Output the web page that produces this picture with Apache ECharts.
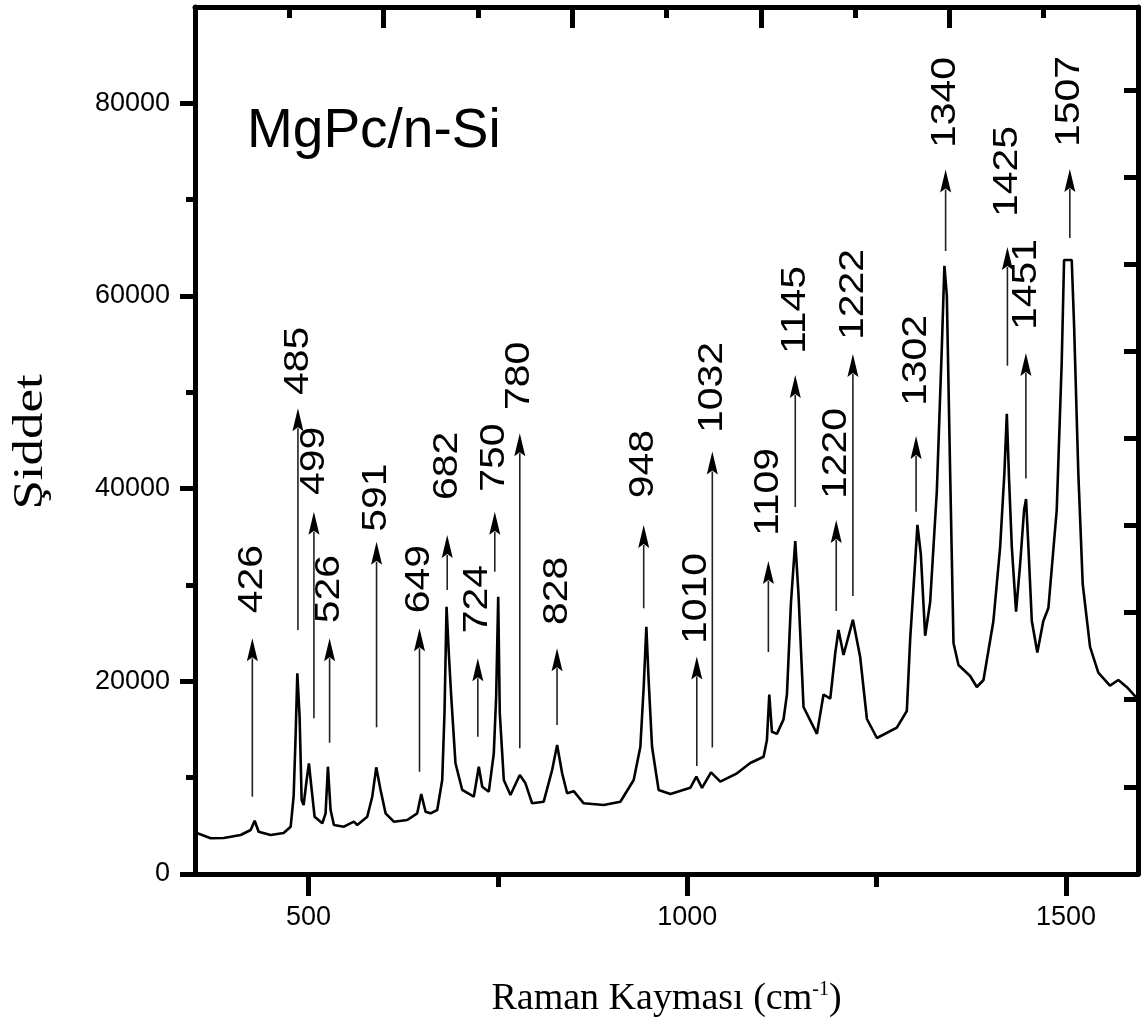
<!DOCTYPE html>
<html>
<head>
<meta charset="utf-8">
<script src="https://cdn.jsdelivr.net/npm/echarts@6/dist/echarts.min.js"></script>
<style>
html,body{margin:0;padding:0;background:#fff;}
#chart{width:1142px;height:1030px;}
</style>
</head>
<body>
<div id="chart"></div>
<script>
// ---- Spectrum (Raman shift, cm-1 / intensity) ----
const ramanShift = [353.2,370.7,387.9,410.3,423.5,428.8,434.0,449.9,467.0,476.3,480.2,482.8,485.1,488.1,490.8,493.4,497.4,500.4,503.6,507.9,518.1,522.4,525.5,529.0,533.4,546.6,559.8,564.2,577.4,584.0,589.3,595.0,601.6,612.5,630.2,643.4,648.7,654.4,661.0,669.8,676.4,679.4,682.1,685.1,688.3,693.9,702.8,718.1,724.7,729.2,737.9,744.5,747.6,750.3,752.4,757.7,766.5,778.8,786.3,795.1,810.4,821.5,828.1,834.7,841.3,850.0,863.2,889.6,911.6,929.2,938.0,942.4,945.9,948.9,953.4,962.1,977.6,1003.9,1011.9,1019.4,1031.3,1043.5,1065.6,1083.1,1100.7,1105.1,1108.2,1111.7,1118.3,1127.0,1131.5,1136.8,1142.5,1146.8,1153.4,1171.1,1179.8,1188.7,1195.3,1199.6,1206.2,1218.6,1228.2,1237.1,1250.3,1276.6,1289.8,1294.2,1300.8,1303.8,1308.3,1314.0,1320.6,1329.4,1336.0,1339.4,1342.6,1347.0,1351.4,1358.0,1373.4,1382.2,1391.0,1404.1,1413.0,1418.6,1421.8,1424.8,1428.4,1434.0,1439.3,1444.6,1447.2,1450.3,1454.8,1462.1,1470.0,1476.7,1487.7,1494.3,1497.4,1507.5,1510.6,1516.2,1522.0,1531.7,1542.6,1558.0,1569.0,1580.0,1593.2];
const intensity = [4225,3706,3737,4048,4567,5533,4391,4048,4256,4910,8024,14252,20834,16329,7682,7163,9758,11491,9062,5948,5263,6301,11138,6644,5086,4910,5429,5086,5948,8024,11076,8720,6301,5429,5606,6301,8304,6467,6301,6644,9758,16713,27747,22910,18405,11491,8720,8024,11138,9062,8543,12529,18405,28785,16682,9758,8201,10277,9415,7339,7505,10796,13391,10453,8377,8600,7339,7163,7505,9758,13214,19443,25671,20138,13214,8720,8304,8948,10111,8948,10547,9592,10453,11522,12176,13910,18633,14761,14543,16048,18633,28131,34567,28962,17336,14543,18633,18208,22941,25329,22734,26387,22526,16090,14118,15197,16920,24370,32419,36249,33176,24736,28235,39727,54684,63134,60052,41626,23979,21695,20554,19412,20138,26263,33945,41626,47771,40900,33945,27239,32076,37785,38927,33945,26263,22994,26263,27612,37785,53149,63737,63737,56990,41626,30104,23585,20906,19557,20138,19412,18270];

// ---- Peak annotations ----
const labelText  = ['426','485','499','526','591','649','682','724','750','780','828','948','1010','1032','1109','1145','1220','1222','1302','1340','1425','1451','1507'];
const arrowX     = [425.7,485.9,507,527.7,589.7,646.4,683,723.4,745.8,778.8,828,942.4,1012.5,1033,1107,1142.5,1196.6,1218.6,1302,1341,1422.6,1447,1505];
const arrowBase  = [8024,25328,16162,13630,15228,10619,29481,14253,31380,13048,15467,27581,11211,13131,23045,38097,27301,28858,37598,64671,52764,41055,66021];
const arrowTip   = [24466,48341,37609,24466,34494,25505,35190,22391,37609,45746,23429,36228,22588,43858,32491,51799,36747,53979,45467,73120,65086,54083,73183];
const labelBase  = [27061,49723,39342,26024,35532,27061,38823,24986,39685,48166,25848,38999,23875,45778,35086,53979,38927,55432,48581,75364,68201,56471,75467];

// ---- Axes ticks ----
const xMajorTicks = [500, 1000, 1500];
const xMinorTicks = [750, 1250];
const yMajorTicks = [0, 20000, 40000, 60000, 80000];
const yMinorTicks = [10000, 30000, 50000, 70000];
const rightTicks = [10, 20, 30, 40, 50, 60, 70, 80, 90];

const SANS = '"Liberation Sans", Arial, sans-serif';
const SERIF = '"Liberation Serif", "Times New Roman", serif';
const axisLineStyle = {color: '#000', width: 5};
const plain = v => String(v);

const chart = echarts.init(document.getElementById('chart'));
chart.setOption({
  animation: false,
  backgroundColor: '#fff',
  title: {
    text: 'MgPc/n-Si', left: 247, top: 104, padding: 0,
    textStyle: {fontFamily: SANS, fontSize: 55, fontWeight: 'normal', color: '#000'}
  },
  graphic: [{
    type: 'text', x: 31, y: 442, rotation: Math.PI / 2, scaleX: 1.26,
    style: {text: 'Şiddet', font: '42px ' + SERIF, fill: '#000', align: 'center', verticalAlign: 'middle'}
  }],
  grid: {left: 195, right: 4, top: 7, bottom: 156, containLabel: false},
  xAxis: [
    {
      type: 'value', position: 'bottom', min: 350, max: 1595,
      axisLine: {show: true, onZero: false, lineStyle: axisLineStyle},
      axisTick: {show: true, customValues: xMajorTicks, length: 22, lineStyle: {color: '#000', width: 5}},
      axisLabel: {show: true, customValues: xMajorTicks, formatter: plain, margin: 30, fontFamily: SANS, fontSize: 27, color: '#000'},
      splitLine: {show: false},
      name: 'Raman Kayması (cm{sup|-1})', nameLocation: 'middle', nameGap: 106,
      nameTextStyle: {fontFamily: SERIF, fontSize: 38, color: '#000',
        rich: {sup: {fontFamily: SERIF, fontSize: 20, color: '#000', verticalAlign: 'top', lineHeight: 20}}}
    },
    {
      type: 'value', position: 'bottom', min: 350, max: 1595,
      axisLine: {show: false, onZero: false},
      axisTick: {show: true, customValues: xMinorTicks, length: 13, lineStyle: {color: '#000', width: 5}},
      axisLabel: {show: false}, splitLine: {show: false}
    },
    {
      type: 'value', position: 'top', min: 0, max: 5, interval: 1,
      axisLine: {show: true, onZero: false, lineStyle: axisLineStyle},
      axisTick: {show: true, inside: true, length: 21, lineStyle: {color: '#000', width: 5}},
      minorTick: {show: true, splitNumber: 2, length: 11, lineStyle: {color: '#000', width: 5}},
      axisLabel: {show: false}, splitLine: {show: false}, minorSplitLine: {show: false}
    }
  ],
  yAxis: [
    {
      type: 'value', position: 'left', min: 0, max: 90000,
      axisLine: {show: true, onZero: false, lineStyle: axisLineStyle},
      axisTick: {show: true, customValues: yMajorTicks, length: 15, lineStyle: {color: '#000', width: 5}},
      axisLabel: {show: true, customValues: yMajorTicks, formatter: plain, margin: 25, fontFamily: SANS, fontSize: 27, color: '#000'},
      splitLine: {show: false}
    },
    {
      type: 'value', position: 'left', min: 0, max: 90000,
      axisLine: {show: false, onZero: false},
      axisTick: {show: true, customValues: yMinorTicks, length: 9, lineStyle: {color: '#000', width: 5}},
      axisLabel: {show: false}, splitLine: {show: false}
    },
    {
      type: 'value', position: 'right', min: 0, max: 99.5,
      axisLine: {show: true, onZero: false, lineStyle: axisLineStyle},
      axisTick: {show: true, inside: true, customValues: rightTicks, length: 14, lineStyle: {color: '#000', width: 5}},
      axisLabel: {show: false}, splitLine: {show: false}
    }
  ],
  series: [
    {
      type: 'line', name: 'MgPc/n-Si', xAxisIndex: 0, yAxisIndex: 0,
      data: ramanShift.map((x, i) => [x, intensity[i]]),
      showSymbol: false, symbol: 'none', smooth: false,
      lineStyle: {color: '#000', width: 2.6}, z: 5
    },
    {
      type: 'custom', name: 'peaks', xAxisIndex: 0, yAxisIndex: 0,
      data: arrowX.map((x, i) => [x, arrowBase[i], arrowTip[i], labelBase[i]]),
      encode: {x: 0, y: [1, 2, 3]},
      renderItem: function (params, api) {
        const x = api.value(0);
        const pb = api.coord([x, api.value(1)]);
        const pt = api.coord([x, api.value(2)]);
        const pl = api.coord([x, api.value(3)]);
        const hl = 23, hw = 5.5;
        return {
          type: 'group',
          children: [
            {type: 'line', shape: {x1: pb[0], y1: pb[1], x2: pt[0], y2: pt[1] + hl - 3},
             style: {stroke: '#222', lineWidth: 1.6}},
            {type: 'polygon', shape: {points: [[pt[0], pt[1]], [pt[0] - hw, pt[1] + hl], [pt[0], pt[1] + hl - 4], [pt[0] + hw, pt[1] + hl]]},
             style: {fill: '#000'}},
            {type: 'text', x: pl[0], y: pl[1], rotation: Math.PI / 2, scaleX: 1.17,
             style: {text: labelText[params.dataIndex], font: '35px ' + SANS, fill: '#000', align: 'left', verticalAlign: 'middle'}}
          ]
        };
      },
      z: 4
    }
  ]
});
</script>
</body>
</html>
